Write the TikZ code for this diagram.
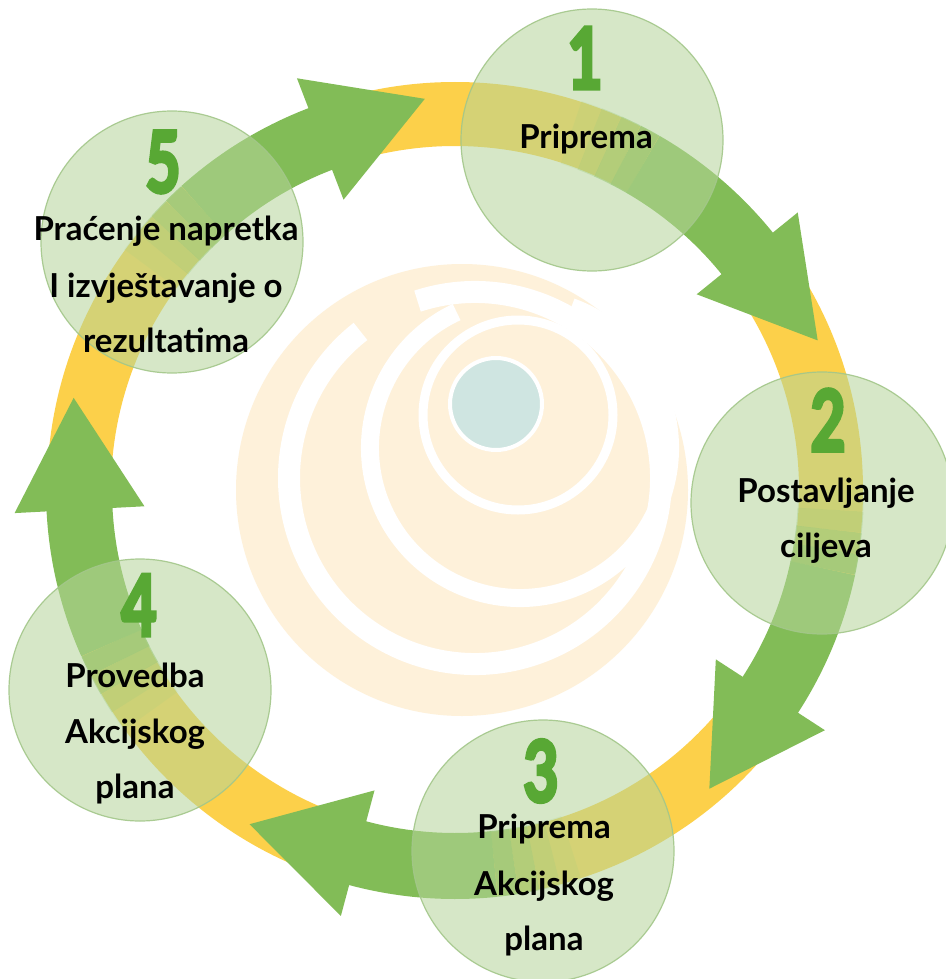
\documentclass[tikz,border=0pt]{standalone}
\usepackage{fontspec}
\newfontfamily\lblfont{Lato}
\newfontfamily\digfont{Lato}[BoldFeatures={FakeBold=5}]
\usetikzlibrary{calc}
\definecolor{ringY}{HTML}{FCD04A}
\definecolor{arrG}{HTML}{82BC57}
\definecolor{digG}{HTML}{58A834}
\definecolor{circF}{HTML}{B5D59A}
\definecolor{circD}{HTML}{A3C78A}
\definecolor{creamC}{HTML}{FEF1DA}
\definecolor{tealC}{HTML}{CFE5E1}
\begin{document}
\begin{tikzpicture}[x=1pt,y=-1pt,
  stepcircle/.style={circle, minimum size=262pt, inner sep=0pt, fill=circF, fill opacity=0.55, draw=circD, draw opacity=0.9, line width=1.2pt},
  digit/.style={text=digG, inner sep=0pt, font=\digfont\bfseries\fontsize{84}{84}\selectfont},
  lbl/.style={anchor=base, inner sep=0pt, font=\lblfont\bfseries\fontsize{33}{40}\selectfont, text=black},
  shaft/.style={arrG, line width=66pt},
  gap/.style={white, line width=#1},
]
\useasboundingbox (0,0) rectangle (945,979);
\fill[white] (0,0) rectangle (945,979);
\coordinate (C) at (455,490);
% spiral background
\fill[creamC] (462,490) circle[radius=226];
\draw[gap=22pt] (475,478) ++(252:186) arc[start angle=252, end angle=592, radius=186];
\draw[gap=18pt] (520,448) ++(290:150) arc[start angle=290, end angle=605, radius=150];
\draw[gap=9pt] (518,415) circle[radius=95];
\fill[tealC, draw=white, line width=4pt] (496,404) circle[radius=46];
% yellow ring
\draw[ringY, line width=64pt] (C) circle[radius=376];
% arrows
\foreach \b in {249,321,393,465,537}{
  \foreach \k/\op in {4/0.15,3/0.35,2/0.6,1/0.85}{
    \draw[shaft, draw opacity=\op] (C) ++({\b-21-3*\k}:376) arc[start angle={\b-21-3*\k}, end angle={\b-18-3*\k}, radius=376];
  }
  \draw[shaft] (C) ++({\b-21}:376) arc[start angle={\b-21}, end angle={\b+0.5}, radius=376];
  \fill[arrG] ($(C)+(\b:311)$) -- ($(C)+(\b:441)$) -- ($(C)+(\b:376)+({\b+90}:112)$) -- cycle;
}
% circles
\node[stepcircle] (c1) at (592,140) {};
\node[stepcircle] (c2) at (822,503) {};
\node[stepcircle] (c3) at (543,851) {};
\node[stepcircle] (c4) at (140,690) {};
\node[stepcircle] (c5) at (172,242) {};
% digits
\node[digit] (d1) at (585,58) {\scalebox{0.72}[1]{1}};
\node[digit] (d2) at (828,420) {\scalebox{0.72}[1]{2}};
\node[digit] (d3) at (541,771) {\scalebox{0.72}[1]{3}};
\node[digit] (d4) at (139,605) {\scalebox{0.72}[1]{4}};
\node[digit] (d5) at (163,162) {\scalebox{0.72}[1]{5}};
% labels
\node[lbl] (t1) at (586,148) {Priprema};
\node[lbl] (t2a) at (826,502) {Postavljanje};
\node[lbl] (t2b) at (826,557) {ciljeva};
\node[lbl] (t3a) at (544,838) {Priprema};
\node[lbl] (t3b) at (544,895) {Akcijskog};
\node[lbl] (t3c) at (544,950) {plana};
\node[lbl] (t4a) at (135,687) {Provedba};
\node[lbl] (t4b) at (135,743) {Akcijskog};
\node[lbl] (t4c) at (135,798) {plana};
\node[lbl] (t5a) at (166,240) {Praćenje napretka};
\node[lbl] (t5b) at (166,297) {I izvještavanje o};
\node[lbl] (t5c) at (166,352) {rezultatima};
\end{tikzpicture}
\end{document}
